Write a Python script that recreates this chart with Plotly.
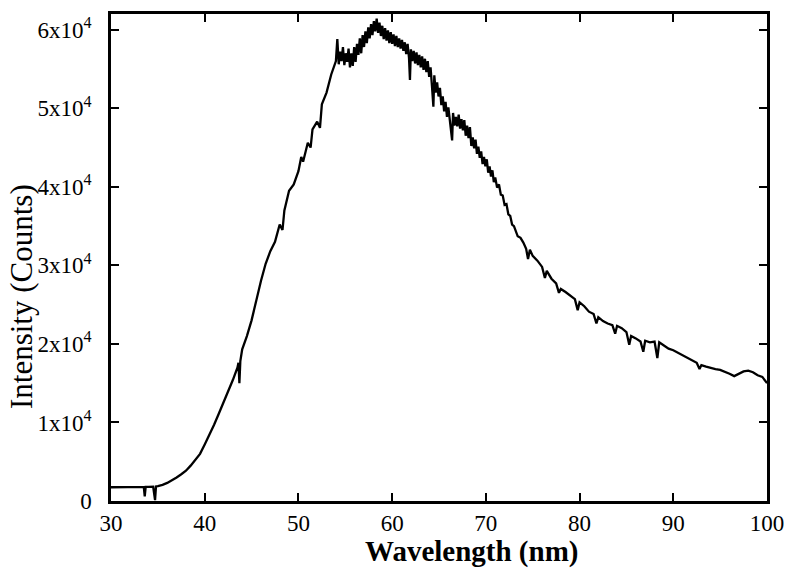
import plotly.graph_objects as go

# Baseline and rising edge
wl_rise = [
    30.0, 30.5, 31.0, 31.5, 32.0, 32.5, 33.0, 33.5, 33.6, 33.7,
    34.0, 34.5, 34.7, 34.8, 35.0, 35.5, 36.0, 36.5, 37.0, 37.5,
    38.0, 38.5, 39.0, 39.5, 40.0, 40.5, 41.0, 41.5, 42.0, 42.5,
    43.0, 43.5, 43.6, 43.7, 43.8, 44.0, 44.5, 45.0, 45.5, 46.0,
    46.5, 47.0, 47.5, 48.0, 48.3, 48.5, 49.0, 49.5, 50.0, 50.3,
    50.5, 51.0, 51.3, 51.5, 52.0, 52.3, 52.5, 53.0, 53.5,
]
int_rise = [
    1750, 1760, 1770, 1760, 1780, 1790, 1790, 1800, 600, 1800,
    1810, 1830, 100, 1850, 1900, 2050, 2300, 2600, 3000, 3400,
    3850, 4500, 5200, 6000, 7200, 8400, 9700, 11100, 12500, 14000,
    15400, 17000, 17600, 15000, 17800, 19300, 21000, 23000, 25600, 28000,
    30200, 31800, 33000, 35200, 34500, 37000, 39500, 40300, 42000, 43800,
    43200, 45600, 45000, 47300, 48300, 47500, 50500, 52000, 54300,
]

# Noisy peak region
wl_peak = [
    54.0, 54.15, 54.3, 54.45, 54.6, 54.75, 54.9, 55.05, 55.2, 55.35,
    55.5, 55.65, 55.8, 55.95, 56.1, 56.25, 56.4, 56.55, 56.7, 56.85,
    57.0, 57.15, 57.3, 57.45, 57.6, 57.75, 57.9, 58.05, 58.2, 58.35,
    58.5, 58.65, 58.8, 58.95, 59.1, 59.25, 59.4, 59.55, 59.7, 59.85,
    60.0, 60.15, 60.3, 60.45, 60.6, 60.75, 60.9, 61.05, 61.2, 61.35,
    61.5, 61.65, 61.8, 61.9, 62.0, 62.15, 62.3, 62.45, 62.6, 62.75,
    62.9, 63.05, 63.2, 63.35, 63.5, 63.65, 63.8, 63.95, 64.1, 64.25,
    64.4, 64.5, 64.65, 64.8, 64.95, 65.1, 65.25, 65.4, 65.55, 65.7,
    65.85, 66.0, 66.15, 66.3, 66.4, 66.5, 66.65, 66.8, 66.95, 67.1,
    67.25, 67.4, 67.55, 67.7, 67.85, 68.0, 68.15, 68.3, 68.45, 68.6,
    68.75, 68.9, 69.05, 69.2, 69.35, 69.5, 69.65, 69.8, 69.95, 70.1,
    70.25, 70.4, 70.55, 70.7, 70.85, 71.0, 71.2, 71.4, 71.6, 71.8,
    72.0, 72.2, 72.4, 72.6, 72.8, 73.0,
]
int_peak = [
    56000, 58800, 55600, 57200, 56000, 57800, 55500, 57000, 55900, 57600,
    55200, 57000, 55400, 57800, 55900, 58200, 56800, 58900, 57000, 59300,
    57800, 59800, 58300, 60300, 58900, 60700, 59300, 61100, 59800, 61400,
    59600, 60900, 59200, 60500, 58800, 60200, 58600, 59900, 58300, 59700,
    58200, 59400, 57900, 59200, 57800, 58900, 57600, 58700, 57300, 58400,
    56900, 58200, 56400, 53600, 57500, 56000, 57300, 55700, 57100, 55500,
    56800, 55200, 56600, 54900, 56300, 54600, 56000, 54000, 55200, 52800,
    50200, 54200, 52000, 53300, 51500, 52600, 50400, 51500, 49600, 50800,
    48900, 50100, 48200, 47300, 45900, 49400, 47800, 48900, 47700, 49200,
    47400, 48600, 47200, 48500, 46500, 47800, 46200, 47600, 45200, 46300,
    44900, 46000, 44200, 45100, 43700, 44500, 42900, 43800, 42600, 43500,
    41800, 42600, 41300, 42100, 40600, 41200, 39900, 40300, 39000, 38900,
    37700, 37800, 36500, 36300, 35200, 35000,
]

# Long-wavelength tail
wl_tail = [
    73.2, 73.4, 73.7, 74.0, 74.3, 74.5, 74.7, 75.0, 75.5, 76.0,
    76.3, 76.5, 77.0, 77.5, 77.8, 78.0, 78.5, 79.0, 79.5, 79.8,
    80.0, 80.5, 81.0, 81.5, 81.8, 82.0, 82.5, 83.0, 83.5, 83.8,
    84.0, 84.5, 85.0, 85.3, 85.5, 86.0, 86.5, 86.8, 87.0, 87.5,
    88.0, 88.3, 88.5, 89.0, 89.5, 90.0, 90.5, 91.0, 91.5, 92.0,
    92.5, 92.8, 93.0, 93.5, 94.0, 94.5, 95.0, 95.5, 96.0, 96.5,
    97.0, 97.5, 98.0, 98.5, 99.0, 99.5, 100.0,
]
int_tail = [
    34200, 33700, 33500, 32900, 32100, 30800, 32000, 31200, 30600, 29800,
    28400, 29300, 28300, 27700, 26500, 27000, 26600, 26100, 25700, 24300,
    25300, 24800, 24100, 23800, 22600, 23400, 22900, 22600, 22400, 21300,
    22300, 22000, 21500, 19900, 21000, 20700, 20300, 19000, 20400, 20200,
    20300, 18200, 20200, 19800, 19400, 19200, 18900, 18600, 18200, 17900,
    17600, 16800, 17300, 17100, 16900, 16800, 16700, 16500, 16200, 15900,
    16200, 16500, 16600, 16400, 16000, 15800, 15000,
]

x_ticks = [30, 40, 50, 60, 70, 80, 90, 100]
y_ticks = [0, 10000, 20000, 30000, 40000, 50000, 60000]
y_ticktext = ["0", "1x10<sup>4</sup>", "2x10<sup>4</sup>", "3x10<sup>4</sup>",
              "4x10<sup>4</sup>", "5x10<sup>4</sup>", "6x10<sup>4</sup>"]
x_title = "Wavelength (nm)"
y_title = "Intensity (Counts)"

wavelength = wl_rise + wl_peak + wl_tail
intensity = int_rise + int_peak + int_tail
assert len(wavelength) == len(intensity)

fig = go.Figure()
fig.add_trace(go.Scatter(
    x=wavelength, y=intensity, mode="lines",
    line=dict(color="black", width=2.3),
    showlegend=False, hoverinfo="skip",
))

font_family = "Liberation Serif"
fig.update_layout(
    width=787, height=570,
    margin=dict(l=111, r=20, t=14, b=69),
    paper_bgcolor="white", plot_bgcolor="white",
    font=dict(family=font_family, size=24, color="black"),
)
fig.update_xaxes(
    range=[30, 100], tickvals=x_ticks, automargin=False,
    showgrid=False, zeroline=False,
    showline=True, linecolor="black", linewidth=2.5, mirror="ticks",
    ticks="inside", ticklen=8, tickwidth=2, tickcolor="black",
    tickfont=dict(family=font_family, size=23),
)
fig.update_yaxes(
    range=[0, 62000], tickvals=y_ticks, ticktext=y_ticktext, automargin=False,
    showgrid=False, zeroline=False,
    showline=True, linecolor="black", linewidth=2.5, mirror="ticks",
    ticks="inside", ticklen=8, tickwidth=2, tickcolor="black",
    tickfont=dict(family=font_family, size=23),
    ticklabelstandoff=12,
)
# axis titles placed as annotations to match the original offsets
fig.add_annotation(
    text="<b>" + x_title + "</b>", xref="paper", yref="paper",
    x=(471 - 111) / 656, y=(501 - 551) / 487, xanchor="center", yanchor="middle",
    showarrow=False, font=dict(family=font_family, size=29, color="black"),
)
fig.add_annotation(
    text=y_title, xref="paper", yref="paper", textangle=-90,
    x=(21 - 111) / 656, y=(501 - 297) / 487, xanchor="center", yanchor="middle",
    showarrow=False, font=dict(family=font_family, size=31, color="black"),
)

fig.write_html(
    "out.html",
    config={"displayModeBar": False},
    post_script="document.body.style.margin='0';document.body.style.padding='0';",
)
